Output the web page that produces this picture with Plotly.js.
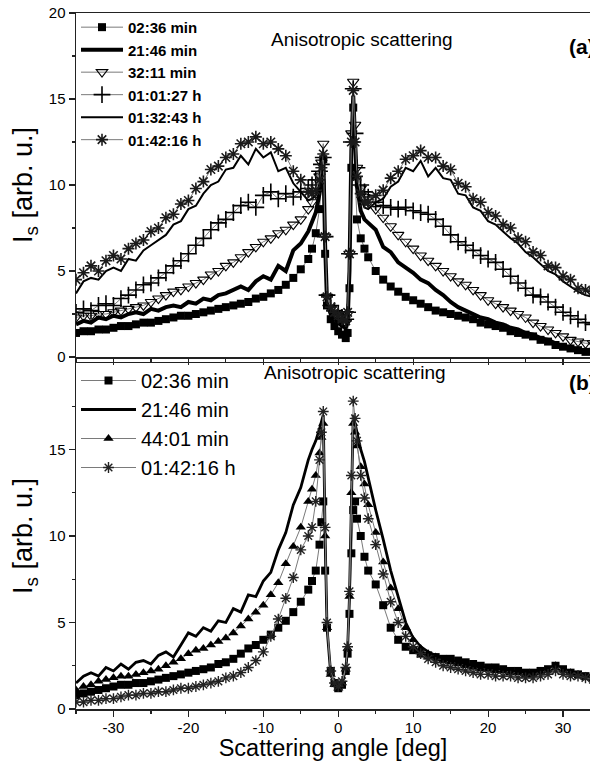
<!DOCTYPE html>
<html>
<head>
<meta charset="utf-8">
<script src="https://cdn.plot.ly/plotly-3.0.1.min.js"></script>
<style>html,body{margin:0;padding:0;background:#fff;overflow:hidden}#chart{width:590px;height:762px}</style>
</head>
<body>
<div id="chart"></div>
<script>
// Scattering angle grid (deg), shared by all series
const angle = [-35,-34,-33,-32,-31,-30,-29,-28,-27,-26,-25,-24,-23,-22,-21,-20,-19,-18,-17,-16,-15,-14,-13,-12,-11,-10,-9,-8,-7,-6,-5,-4,
  -3.5,-3,-2.5,-2.25,-2,-1.75,-1.5,-1,-0.5,0,0.5,1,1.25,1.5,1.75,2,2.25,2.5,3,3.5,
  4,5,6,7,8,9,10,11,12,13,14,15,16,17,18,19,20,21,22,23,24,25,26,27,28,29,30,31,32,33,34];

// Panel (a) series
const a_0236 = [1.4,1.5,1.5,1.6,1.6,1.7,1.8,1.8,1.9,2.0,2.0,2.1,2.2,2.3,2.4,2.4,2.5,2.6,2.7,2.8,2.9,3.0,3.1,3.2,3.4,3.5,3.7,3.9,4.2,4.6,5.1,5.7,
  6.3,7.2,8.6,10.0,11.5,6.0,3.0,2.2,1.8,1.5,1.3,1.1,1.4,4.0,11.0,14.5,10.5,8.0,6.9,6.3,
  5.8,5.0,4.5,4.1,3.8,3.5,3.3,3.1,2.9,2.7,2.6,2.5,2.4,2.3,2.2,2.0,1.9,1.8,1.7,1.5,1.4,1.3,1.2,1.0,0.9,0.7,0.6,0.5,0.4,0.3,0.3];
const a_2146 = [1.9,2.1,2.0,2.3,2.2,2.4,2.3,2.5,2.6,2.5,2.8,2.7,2.9,3.0,2.9,3.2,3.1,3.4,3.3,3.6,3.7,3.9,4.1,3.9,4.4,4.7,4.5,5.3,5.0,6.2,6.6,7.3,
  7.8,8.4,9.5,10.5,11.8,6.5,3.2,2.5,2.2,2.0,1.8,1.7,2.0,5.0,12.0,15.2,12.5,10.0,8.5,8.0,
  7.8,7.4,6.4,6.1,5.5,5.2,4.9,4.5,4.3,3.9,3.6,3.2,2.9,2.7,2.5,2.3,2.2,2.0,1.9,1.7,1.6,1.4,1.3,1.1,1.0,0.8,0.6,0.5,0.4,0.3,0.3];
const a_3211 = [2.3,2.4,2.4,2.5,2.5,2.6,2.7,2.8,2.9,3.0,3.2,3.4,3.6,3.8,3.9,4.1,4.3,4.5,4.8,5.0,5.3,5.5,5.8,6.1,6.4,6.7,6.9,7.2,7.4,7.7,8.0,8.6,
  9.0,9.5,10.5,11.3,12.4,7.0,3.5,2.8,2.5,2.3,2.1,2.0,2.5,6.0,13.0,16.0,13.5,11.0,9.8,9.3,
  9.0,8.6,8.1,7.6,7.1,6.7,6.3,5.9,5.6,5.3,5.0,4.7,4.4,4.2,3.9,3.6,3.3,3.1,2.9,2.7,2.5,2.3,2.0,1.8,1.6,1.4,1.2,1.0,0.9,0.8,0.8];
const a_010127 = [2.6,2.8,2.7,3.0,3.1,3.0,3.4,3.6,3.9,4.2,4.3,4.6,4.9,5.3,5.6,6.0,6.5,6.9,7.4,7.8,8.0,8.4,8.8,9.0,8.7,9.4,9.6,9.2,9.5,9.3,9.6,9.8,
  10.0,10.3,10.8,11.2,11.6,7.0,3.6,3.0,2.7,2.5,2.3,2.2,2.6,6.0,12.5,15.6,13.0,11.0,10.0,9.6,
  9.3,9.0,8.8,8.7,8.6,8.7,8.5,8.4,8.3,8.0,7.6,7.1,6.7,6.5,6.2,5.9,5.7,5.5,5.1,4.7,4.3,4.0,3.6,3.5,3.2,2.9,2.6,2.4,2.2,2.0,1.9];
const a_013243 = [3.7,4.4,4.6,4.5,5.0,5.2,5.0,5.7,5.6,6.2,6.5,6.8,7.1,7.7,7.9,8.6,8.8,9.5,10.0,10.2,10.9,11.0,11.7,11.2,12.1,11.6,11.9,10.8,11.0,10.1,9.6,9.1,
  9.2,9.4,10.0,10.8,11.7,6.8,3.4,2.8,2.5,2.3,2.1,2.0,2.5,5.8,12.3,15.3,12.2,10.2,9.2,8.7,
  8.6,9.0,9.2,9.9,10.2,11.0,10.8,11.4,10.5,11.0,10.4,10.3,9.5,9.4,8.7,8.5,7.9,7.7,7.3,6.9,6.6,6.1,5.8,5.4,5.0,4.8,4.4,4.1,3.8,3.6,3.5];
const a_014216 = [4.5,4.9,5.3,5.0,5.6,5.9,5.7,6.3,6.6,6.8,7.3,7.5,8.1,8.3,8.9,9.1,9.8,10.2,10.9,11.1,11.6,11.8,12.4,12.5,12.8,12.4,12.5,12.1,11.7,10.8,10.3,9.6,
  9.5,9.7,10.3,11.0,11.8,7.0,3.5,2.9,2.6,2.4,2.2,2.1,2.6,6.0,12.5,15.5,12.5,10.5,9.5,9.0,
  9.0,9.4,9.7,10.4,10.8,11.5,11.7,12.0,11.6,11.6,11.1,10.9,10.1,9.9,9.2,9.0,8.4,8.2,7.7,7.5,6.9,6.7,6.1,5.9,5.3,5.2,4.7,4.5,4.0,3.9,3.8];

// Panel (b) series
const b_0236 = [0.8,0.9,1.0,1.1,1.2,1.3,1.4,1.4,1.5,1.5,1.6,1.7,1.8,1.9,2.0,2.1,2.2,2.3,2.4,2.6,2.7,2.9,3.2,3.5,3.7,4.0,4.3,4.7,5.1,5.6,6.2,6.9,
  7.4,8.0,9.5,10.8,12.0,8.0,4.7,2.2,1.5,1.2,1.4,2.2,3.2,5.5,9.0,11.5,12.0,11.0,10.0,8.8,
  8.0,7.2,6.0,4.7,4.0,3.6,3.4,3.2,3.1,3.0,2.9,2.9,2.8,2.7,2.6,2.5,2.4,2.4,2.3,2.2,2.2,2.1,2.1,2.2,2.3,2.5,2.3,2.1,2.0,1.9,1.8];
const b_2146 = [1.5,1.9,2.1,1.9,2.4,2.2,2.6,2.3,2.7,2.8,2.6,3.1,3.3,3.0,3.7,4.4,4.2,4.7,4.5,5.1,5.0,5.8,5.6,6.6,6.5,7.4,7.9,9.2,10.2,11.8,12.8,14.4,
  15.0,15.5,16.2,16.6,17.0,10.0,4.7,2.0,1.4,1.2,1.5,2.3,3.5,6.5,13.0,17.0,16.5,16.0,15.0,14.3,
  13.3,11.5,9.8,8.0,6.5,5.0,4.1,3.6,3.3,3.1,2.9,2.8,2.7,2.6,2.5,2.4,2.4,2.3,2.2,2.2,2.1,2.1,2.1,2.2,2.2,2.4,2.2,2.1,2.0,1.9,1.8];
const b_4401 = [1.1,1.3,1.4,1.6,1.7,1.8,1.9,1.9,2.0,2.1,2.2,2.3,2.5,2.7,2.9,3.2,3.4,3.5,3.7,3.9,4.1,4.4,4.8,5.2,5.6,6.0,6.6,7.3,8.4,9.4,10.5,12.0,
  12.7,13.5,14.8,15.7,16.5,10.0,4.7,2.0,1.4,1.2,1.5,2.3,3.5,6.5,12.5,16.5,16.0,15.2,14.0,13.0,
  11.8,10.2,8.5,7.0,5.8,4.7,4.0,3.5,3.2,3.0,2.8,2.7,2.6,2.5,2.4,2.3,2.3,2.2,2.2,2.1,2.1,2.0,2.0,2.1,2.2,2.5,2.2,2.1,2.0,1.9,1.8];
const b_014216 = [0.4,0.4,0.5,0.5,0.6,0.6,0.7,0.8,0.8,0.9,0.9,1.0,1.0,1.1,1.2,1.2,1.3,1.4,1.5,1.6,1.8,1.9,2.1,2.4,2.8,3.3,4.2,5.2,6.4,7.6,9.2,10.0,
  10.5,12.0,14.4,16.0,17.2,10.5,5.0,2.2,1.5,1.3,1.6,2.4,3.6,6.8,13.5,17.8,16.8,15.5,13.5,12.2,
  11.0,9.5,7.8,6.2,5.0,4.2,3.6,3.2,2.9,2.7,2.5,2.4,2.3,2.2,2.1,2.0,2.0,1.9,1.9,1.9,1.8,1.8,1.8,1.9,2.0,2.2,2.0,1.9,1.9,1.8,1.7];

const namesA = ['02:36 min','21:46 min','32:11 min','01:01:27 h','01:32:43 h','01:42:16 h'];
const namesB = ['02:36 min','21:46 min','44:01 min','01:42:16 h'];
const xTicks = [-30,-20,-10,0,10,20,30];
const xTickText = ['-30','-20','-10','0','10','20','30'];
const xMinor = [-35,-25,-15,-5,5,15,25];
const yTicksA = [0,5,10,15,20];
const yTicksB = [0,5,10,15];
const yMinor = [2.5,7.5,12.5,17.5];

const FONT = 'Liberation Sans, Arial, sans-serif';
const gray = '#7a7a7a';

function tr(x, y, name, opts, panel) {
  return Object.assign({
    type: 'scatter', x: x, y: y, name: name,
    xaxis: panel === 'b' ? 'x2' : 'x', yaxis: panel === 'b' ? 'y2' : 'y',
    legend: panel === 'b' ? 'legend2' : 'legend'
  }, opts);
}

const data = [
  tr(angle, a_0236, namesA[0], {mode:'lines+markers', line:{color:gray,width:1}, marker:{symbol:'square', size:8, color:'#000'}}, 'a'),
  tr(angle, a_2146, namesA[1], {mode:'lines', line:{color:'#000',width:4}}, 'a'),
  tr(angle, a_3211, namesA[2], {mode:'lines+markers', line:{color:gray,width:1}, marker:{symbol:'triangle-down-open', size:10, color:'#000', line:{width:1.1}}}, 'a'),
  tr(angle, a_010127, namesA[3], {mode:'lines+markers', line:{color:gray,width:1}, marker:{symbol:'cross-thin-open', size:12, color:'#000', line:{width:1.6, color:'#000'}}}, 'a'),
  tr(angle, a_013243, namesA[4], {mode:'lines', line:{color:'#000',width:2}}, 'a'),
  tr(angle, a_014216, namesA[5], {mode:'lines+markers', line:{color:gray,width:1}, marker:{symbol:'asterisk-open', size:10, color:'#1a1a1a', line:{width:1.6, color:'#1a1a1a'}}}, 'a'),

  tr(angle, b_0236, namesB[0], {mode:'lines+markers', line:{color:gray,width:1}, marker:{symbol:'square', size:8, color:'#000'}}, 'b'),
  tr(angle, b_2146, namesB[1], {mode:'lines', line:{color:'#000',width:2.8}}, 'b'),
  tr(angle, b_4401, namesB[2], {mode:'lines+markers', line:{color:gray,width:1}, marker:{symbol:'triangle-up', size:9, color:'#000'}}, 'b'),
  tr(angle, b_014216, namesB[3], {mode:'lines+markers', line:{color:gray,width:1}, marker:{symbol:'asterisk-open', size:9, color:'#222', line:{width:1.4, color:'#222'}}}, 'b')
];

const axisLine = {showline:true, linecolor:'#222', linewidth:1.5, showgrid:false, zeroline:false, ticks:'outside', ticklen:6, tickwidth:1.2, tickcolor:'#222', tickfont:{family:FONT, size:15, color:'#000'}};

const layout = {
  width: 590, height: 762,
  margin: {l: 76, r: 0, t: 13, b: 53, pad: 0},
  paper_bgcolor: '#fff', plot_bgcolor: '#fff',
  font: {family: FONT, color: '#000'},
  showlegend: true,
  xaxis: Object.assign({}, axisLine, {domain:[0,1], anchor:'y', range:[-35,33.6], mirror:true, showticklabels:false, tickmode:'array', tickvals:xTicks, ticktext:xTickText,
    minor:{tickmode:'array', tickvals:xMinor, ticks:'outside', ticklen:3, tickcolor:'#222'}}),
  yaxis: Object.assign({}, axisLine, {domain:[0.5057,1], anchor:'x', range:[0,20], tickmode:'array', tickvals:yTicksA,
    minor:{tickmode:'array', tickvals:yMinor, ticks:'outside', ticklen:3, tickcolor:'#222'},
    title:{text:'I<sub>s</sub> [arb. u.]', font:{family:FONT, size:27, color:'#000'}, standoff:8}}),
  xaxis2: Object.assign({}, axisLine, {domain:[0,1], anchor:'y2', range:[-35,33.6], mirror:true, tickmode:'array', tickvals:xTicks, ticktext:xTickText,
    ticklabelstandoff:-2,
    minor:{tickmode:'array', tickvals:xMinor, ticks:'outside', ticklen:3, tickcolor:'#222'},
    title:{text:'Scattering angle [deg]', font:{family:FONT, size:23.5, color:'#000'}, standoff:3}}),
  yaxis2: Object.assign({}, axisLine, {domain:[0,0.4971], anchor:'x2', range:[0,20], tickmode:'array', tickvals:yTicksB,
    minor:{tickmode:'array', tickvals:yMinor, ticks:'outside', ticklen:3, tickcolor:'#222'},
    title:{text:'I<sub>s</sub> [arb. u.]', font:{family:FONT, size:27, color:'#000'}, standoff:8}}),
  legend: {x:0, xanchor:'left', y:1.003, yanchor:'top', bgcolor:'rgba(0,0,0,0)', borderwidth:0, itemwidth:42, tracegroupgap:0,
    font:{family:FONT, size:15, weight:'bold', color:'#000'}},
  legend2: {x:0, xanchor:'left', y:0.5, yanchor:'top', bgcolor:'rgba(0,0,0,0)', borderwidth:0, itemwidth:55, tracegroupgap:0,
    font:{family:FONT, size:20, color:'#000'}},
  annotations: [
    {xref:'paper', yref:'paper', x:0.5564, y:0.9799, text:'Anisotropic scattering', showarrow:false, font:{family:FONT, size:19, color:'#000'}},
    {xref:'paper', yref:'paper', x:0.9553, xanchor:'left', y:0.9713, text:'<b>(a)</b>', showarrow:false, font:{family:FONT, size:21, color:'#000'}},
    {xref:'paper', yref:'paper', x:0.5428, y:0.4828, text:'Anisotropic scattering', showarrow:false, font:{family:FONT, size:19, color:'#000'}},
    {xref:'paper', yref:'paper', x:0.9553, xanchor:'left', y:0.4684, text:'<b>(b)</b>', showarrow:false, font:{family:FONT, size:21, color:'#000'}}
  ]
};

Plotly.newPlot('chart', data, layout, {displayModeBar:false, staticPlot:true});
</script>
</body>
</html>
